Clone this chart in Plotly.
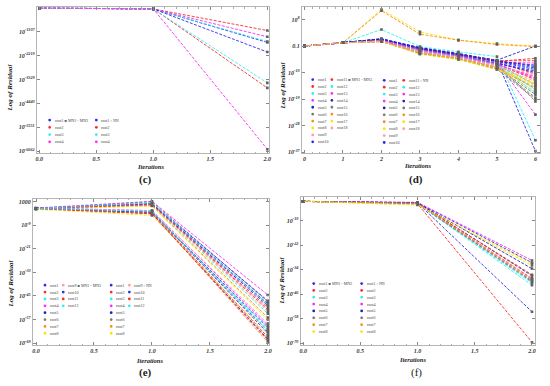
import plotly.graph_objects as go

W, H = 550, 386

# ---------------- data (values are log10 of the residual) ----------------
COLORS = ['#2a2af0', '#ff2a2a', '#2ef0f0', '#ff2aff', '#2020c8',
          '#7a7a7a', '#ff8c1a', '#f5e600', '#ff9e9e']

# panel (c): 4 roots, x = 0..2
c_iter = [0, 1, 2]
c_roots = ['root1', 'root2', 'root3', 'root4']
c_mn = [[-1, -40, -1600], [-1, -40, -1046], [-1, -40, -1555], [-1, -40, -1338]]
c_nn = [[-1, -40, -2046], [-1, -40, -3713], [-1, -40, -3481], [-1, -40, -6569]]
c_tickvals = [-1107, -2219, -3329, -4440, -5551, -6662]
c_xticks = [0.0, 0.5, 1.0, 1.5, 2.0]

# panel (d): 18 roots, x = 0..6
d_iter = [0, 1, 2, 3, 4, 5, 6]
d_roots = ['root%d' % i for i in range(1, 19)]
d_mn = [
    [-1, 0.1, 1.5, -1.5, -3.5, -6.0, -36.7],
    [-1, 0.1, 1.0, -1.8, -3.8, -6.2, -5.2],
    [-1, 0.1, 4.6, -1.2, -3.0, -4.6, -33.0],
    [-1, 0.1, 0.9, -2.0, -4.0, -6.5, -24.3],
    [-1, 0.1, 1.2, -1.6, -3.6, -5.8, -1.0],
    [-1, 0.1, 0.6, -2.5, -4.5, -7.0, -19.8],
    [-1, 0.1, 0.7, -2.8, -4.6, -7.5, -14.0],
    [-1, 0.1, 11.4, 3.8, 1.0, -0.2, -1.0],
    [-1, 0.1, 0.5, -3.0, -4.8, -7.8, -12.0],
    [-1, 0.1, 1.3, -1.9, -3.9, -6.3, -9.0],
    [-1, 0.1, 0.8, -2.2, -4.1, -6.6, -10.5],
    [-1, 0.1, 0.9, -2.4, -4.3, -6.9, -16.0],
    [-1, 0.1, 1.0, -2.1, -4.0, -6.4, -6.8],
    [-1, 0.1, 1.4, -1.7, -3.7, -5.9, -8.0],
    [-1, 0.1, 0.6, -3.2, -5.0, -8.2, -17.5],
    [-1, 0.1, 0.7, -3.4, -5.2, -8.5, -15.0],
    [-1, 0.1, 0.5, -3.6, -5.4, -8.8, -13.5],
    [-1, 0.1, 0.6, -3.1, -4.9, -8.0, -11.0],
]
d_nn = [
    [-1, 0.1, 1.1, -2.0, -4.2, -6.8, -9.5],
    [-1, 0.1, 0.9, -2.3, -4.4, -7.1, -12.5],
    [-1, 0.1, 1.0, -2.1, -4.2, -6.7, -14.5],
    [-1, 0.1, 0.8, -2.6, -4.6, -7.3, -11.5],
    [-1, 0.1, 1.2, -2.2, -4.3, -6.9, -10.0],
    [-1, 0.1, 0.5, -3.3, -5.1, -8.3, -18.5],
    [-1, 0.1, 11.0, 3.0, 1.0, -0.5, -1.2],
    [-1, 0.1, 0.6, -3.5, -5.3, -8.6, -16.5],
    [-1, 0.1, 0.5, -3.0, -5.0, -8.1, -13.0],
    [-1, 0.1, 1.3, -1.8, -3.8, -6.1, -8.5],
    [-1, 0.1, 0.9, -2.0, -4.0, -6.0, -6.0],
    [-1, 0.1, 0.9, -2.5, -4.5, -7.2, -17.0],
    [-1, 0.1, 1.0, -2.3, -4.4, -7.0, -12.0],
    [-1, 0.1, 1.4, -1.9, -3.9, -6.2, -7.5],
    [-1, 0.1, 0.6, -3.6, -5.5, -8.9, -19.0],
    [-1, 0.1, 0.7, -3.3, -5.1, -8.4, -15.5],
    [-1, 0.1, 0.6, -3.8, -5.6, -9.0, -14.0],
    [-1, 0.1, 0.5, -3.2, -5.0, -8.2, -10.5],
]
d_tickvals = [8, -1, -10, -19, -28, -37]
d_ticktext = ['10<sup>8</sup>', '0.1', '10<sup>-10</sup>', '10<sup>-19</sup>',
              '10<sup>-28</sup>', '10<sup>-37</sup>']
d_xticks = [0, 1, 2, 3, 4, 5, 6]

# panel (e): 12 roots, x = 0..2
e_iter = [0, 1, 2]
e_roots = ['root%d' % i for i in range(1, 13)]
e_mn = [
    [-0.4, 2.0, -49.0], [-0.5, 1.6, -52.0], [-0.3, 1.2, -54.0], [-0.2, 3.2, -44.5],
    [-0.4, 1.8, -50.0], [-0.6, 3.0, -48.0], [-0.5, 1.0, -56.0], [-0.8, 0.8, -57.0],
    [-0.4, 1.4, -53.0], [-0.3, 2.2, -47.5], [-0.5, 1.5, -51.0], [-0.4, 2.4, -49.5],
]
e_nn = [
    [-0.4, -2.0, -64.0], [-0.5, -2.5, -66.0], [-0.3, -1.8, -62.0], [-0.2, -1.5, -60.0],
    [-0.4, -3.0, -67.0], [-0.6, -2.2, -63.0], [-0.5, -2.8, -68.5], [-0.8, -4.0, -65.0],
    [-0.4, -1.6, -59.0], [-0.3, -2.4, -61.0], [-0.5, -3.2, -67.5], [-0.4, -1.9, -62.5],
]
e_tickvals = [3, -9, -21, -33, -45, -57, -69]
e_ticktext = ['1000', '10<sup>-9</sup>', '10<sup>-21</sup>', '10<sup>-33</sup>',
              '10<sup>-45</sup>', '10<sup>-57</sup>', '10<sup>-69</sup>']

# panel (f): 8 roots, x = 0..2
f_iter = [0, 1, 2]
f_roots = ['root%d' % i for i in range(1, 9)]
f_mn = [
    [-0.6, -1.4, -54.6], [-0.6, -1.8, -69.5], [-0.6, -1.6, -41.6], [-0.6, -1.5, -38.5],
    [-0.6, -1.3, -37.0], [-0.6, -1.7, -40.0], [-0.6, -1.5, -39.0], [-0.6, -2.2, -32.0],
]
f_nn = [
    [-0.6, -1.2, -30.6], [-0.6, -1.6, -36.5], [-0.6, -1.9, -40.5], [-0.6, -1.1, -29.5],
    [-0.6, -1.4, -33.5], [-0.6, -1.8, -39.5], [-0.6, -1.6, -38.2], [-0.6, -2.4, -31.0],
]
f_tickvals = [-10, -22, -34, -46, -58, -70]

xy_ticks = [0.0, 0.5, 1.0, 1.5, 2.0]

# ---------------- helpers ----------------
def xp(px):
    return px / W

def yp(py):
    return 1 - py / H

SERIF = 'Liberation Serif'
fig = go.Figure()

def add_series(iters, data, xa, ya, marker_symbol):
    for i, vals in enumerate(data):
        fig.add_trace(go.Scatter(
            x=iters, y=vals, mode='lines+markers', xaxis=xa, yaxis=ya,
            line=dict(color=COLORS[i % 9], width=0.9, dash='3px,1.5px'),
            marker=dict(size=2.6, color='#606060', symbol=marker_symbol),
            showlegend=False, hoverinfo='skip'))

add_series(c_iter, c_mn, 'x', 'y', 'square')
add_series(c_iter, c_nn, 'x', 'y', 'square')
add_series(d_iter, d_mn, 'x2', 'y2', 'square')
add_series(d_iter, d_nn, 'x2', 'y2', 'square')
add_series(e_iter, e_mn, 'x3', 'y3', 'square')
add_series(e_iter, e_nn, 'x3', 'y3', 'square')
add_series(f_iter, f_mn, 'x4', 'y4', 'square')
add_series(f_iter, f_nn, 'x4', 'y4', 'square')

tickfont = dict(family=SERIF, size=6, color='#333', style='italic', weight='bold')

def xaxis(domain, rng, ticks, labels, minor_dtick, anchor):
    return dict(domain=domain, range=rng, anchor=anchor, showgrid=False, zeroline=False,
                showline=True, linecolor='#b5b5b5', linewidth=0.8, mirror='ticks',
                ticks='inside', ticklen=3, tickcolor='#888', tickwidth=0.7,
                tickvals=ticks, ticktext=labels, tickfont=tickfont,
                ticklabeloverflow='allow',
                minor=dict(dtick=minor_dtick, tick0=0, ticks='inside', ticklen=1.5,
                           tickcolor='#aaa', tickwidth=0.6))

def yaxis(domain, rng, ticks, labels, anchor):
    return dict(domain=domain, range=rng, anchor=anchor, showgrid=False, zeroline=False,
                showline=True, linecolor='#b5b5b5', linewidth=0.8, mirror='ticks',
                ticks='inside', ticklen=3, tickcolor='#888', tickwidth=0.7,
                tickvals=ticks, ticktext=labels, tickfont=tickfont,
                ticklabeloverflow='allow')

sup = lambda v: '10<sup>%d</sup>' % v

fig.update_layout(
    width=W, height=H, margin=dict(l=0, r=0, t=0, b=0),
    paper_bgcolor='white', plot_bgcolor='white', showlegend=False,
    xaxis=xaxis([xp(36), xp(270)], [-0.023, 2.015], c_xticks,
                ['%.1f' % v for v in c_xticks], 0.1, 'y'),
    yaxis=yaxis([yp(154), yp(7.3)], [-6755, 37], c_tickvals,
                [sup(v) for v in c_tickvals], 'x'),
    xaxis2=xaxis([xp(303), xp(543)], [-0.07, 6.12], d_xticks,
                 [str(v) for v in d_xticks], 0.2, 'y2'),
    yaxis2=yaxis([yp(154), yp(7.3)], [-37.4, 12.16], d_tickvals, d_ticktext, 'x2'),
    xaxis3=xaxis([xp(32), xp(270)], [-0.028, 2.01], xy_ticks,
                 ['%.1f' % v for v in xy_ticks], 0.1, 'y3'),
    yaxis3=yaxis([yp(346.7), yp(200)], [-69.9, 4.4], e_tickvals, e_ticktext, 'x3'),
    xaxis4=xaxis([xp(301.7), xp(538)], [-0.023, 2.027], xy_ticks,
                 ['%.1f' % v for v in xy_ticks], 0.1, 'y4'),
    yaxis4=yaxis([yp(346.7), yp(198.3)], [-70.8, 1.4], f_tickvals,
                 [sup(v) for v in f_tickvals], 'x4'),
)

annotations = []
shapes = []

def text(x, y, s, size, bold=False, italic=False, angle=0, anchor='center', color='#222'):
    font = dict(family=SERIF, size=size, color=color)
    if bold:
        font['weight'] = 'bold'
    if italic:
        font['style'] = 'italic'
    annotations.append(dict(x=xp(x), y=yp(y), xref='paper', yref='paper', text=s,
                            showarrow=False, xanchor=anchor, yanchor='middle',
                            textangle=angle, font=font))

# axis titles and captions
for (lx, ly, ix, iy, cx, cy, cap, cb) in [
        (9, 88, 151, 167.5, 146, 180, '(c)', True),
        (284, 86, 420, 166.5, 418, 180, '(d)', True),
        (10, 285, 150, 362, 146, 374, '(e)', True),
        (283, 282, 415, 361.5, 419, 374, '(f)', False)]:
    text(lx, ly, 'Log of Residual', 7, bold=True, italic=True, angle=-90)
    text(ix, iy, 'Iterations', 6.5, bold=True, italic=True)
    text(cx, cy, cap, 11, bold=cb)

def legend_col(xc, y0, dy, labels, color_offset):
    for k, lab in enumerate(labels):
        cy = y0 + k * dy
        col = COLORS[(color_offset + k) % 9]
        r = 1.4
        shapes.append(dict(type='circle', xref='paper', yref='paper',
                           x0=xp(xc - r), x1=xp(xc + r), y0=yp(cy + r), y1=yp(cy - r),
                           fillcolor=col, line=dict(width=0)))
        text(xc + 3, cy, lab, 4, anchor='left', color='#444')

MN = ' <span style="color:#606060">■</span> MN1 - MN3'
NN = ' <span style="color:#606060">▫</span> NN'

# (c)
legend_col(49, 120.7, 7.3, [c_roots[0] + MN] + c_roots[1:4], 0)
legend_col(96, 120.7, 7.3, [c_roots[0] + NN] + c_roots[1:4], 0)
# (d)
legend_col(314, 80, 6.95, d_roots[0:10], 0)
legend_col(333.3, 80, 6.95, [d_roots[10] + MN] + d_roots[11:18], 10)
legend_col(386, 80.7, 6.95, d_roots[0:10], 0)
legend_col(405.7, 80.7, 6.95, [d_roots[10] + NN] + d_roots[11:18], 10)
# (e)
legend_col(44.3, 286.7, 6.9, e_roots[0:8], 0)
legend_col(62.7, 286.7, 6.9, [e_roots[8] + MN] + e_roots[9:12], 8)
legend_col(111, 286.7, 6.9, e_roots[0:8], 0)
legend_col(129.3, 286.7, 6.9, [e_roots[8] + NN] + e_roots[9:12], 8)
# (f)
legend_col(315, 285, 6.9, [f_roots[0] + MN] + f_roots[1:8], 0)
legend_col(363.3, 285, 6.9, [f_roots[0] + NN] + f_roots[1:8], 0)

fig.update_layout(annotations=annotations, shapes=shapes)
fig.write_html('out.html',
               config={'displayModeBar': False},
               post_script="document.body.style.margin='0';"
                           "document.body.style.overflow='hidden';")
